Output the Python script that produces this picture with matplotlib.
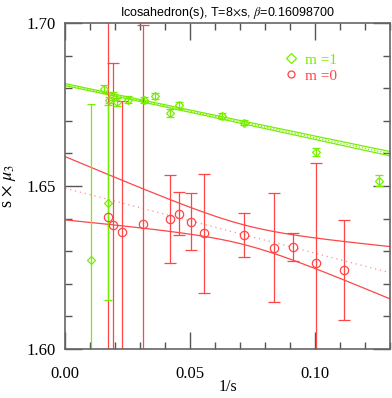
import numpy as np
import matplotlib
matplotlib.use("Agg")
import matplotlib.pyplot as plt
from matplotlib.lines import Line2D
from matplotlib.ticker import MultipleLocator

# ---- data: m = 0 (red circles) ----
m0_x = [0.0172, 0.0192, 0.0227, 0.0312, 0.0418, 0.0455, 0.0503, 0.0556,
        0.0716, 0.0836, 0.0912, 0.1004, 0.1115]
m0_y = [1.6406, 1.6381, 1.6360, 1.6383, 1.6400, 1.6415, 1.6390, 1.6355,
        1.6349, 1.6311, 1.6313, 1.6265, 1.6242]
m0_err = [0.0800, 0.0495, 0.0400, 0.0610, 0.0135, 0.0066, 0.0087, 0.0182,
          0.0067, 0.0168, 0.0042, 0.0306, 0.0153]

# ---- data: m = 1 (green diamonds) ----
m1_x = [0.0103, 0.0155, 0.0172, 0.0176, 0.0190, 0.0208, 0.0251, 0.0314,
        0.0358, 0.0419, 0.0455, 0.0627, 0.0716, 0.1003, 0.1255]
m1_y = [1.6273, 1.6798, 1.6449, 1.6764, 1.6776, 1.6757, 1.6765, 1.6764,
        1.6776, 1.6723, 1.6747, 1.6715, 1.6694, 1.6604, 1.6516]
m1_err = [0.0478, 0.0012, 0.0299, 0.0010, 0.0012, 0.0012, 0.0010, 0.0010,
          0.0010, 0.0012, 0.0010, 0.0008, 0.0008, 0.0013, 0.0017]

# ---- linear fit parameters (intercept, slope, covariance) ----
fit0_a, fit0_b = 1.6493, -0.1992
fit0_var_a, fit0_cov, fit0_var_b = 9.4e-5, -1.18e-3, 1.64e-2
fit1_a, fit1_b = 1.6811, -0.1630
fit1_var_a, fit1_cov, fit1_var_b = 1.016e-7, -5.8e-7, 2.9e-5

x_ticks = [0.00, 0.05, 0.10]
x_ticklabels = ["0.00", "0.05", "0.10"]
y_ticks = [1.60, 1.65, 1.70]
y_ticklabels = ["1.60", "1.65", "1.70"]

RED = "#ff4545"
PINK = "#ff9090"
GREEN = "#77ee00"

plt.rcParams["mathtext.fontset"] = "stix"
fig = plt.figure(figsize=(3.92, 3.98), dpi=100)
ax = fig.add_axes([65.3 / 392, 49 / 398, (390 - 65.3) / 392, (349 - 23) / 398])

xx = np.linspace(0, 0.13, 200)

def band(a, b, va, cv, vb):
    c = a + b * xx
    e = np.sqrt(va + 2 * xx * cv + xx ** 2 * vb)
    return c, e

c0, e0 = band(fit0_a, fit0_b, fit0_var_a, fit0_cov, fit0_var_b)
ax.plot(xx, c0 + e0, color=RED, lw=0.9)
ax.plot(xx, c0 - e0, color=RED, lw=0.9)
ax.plot(xx, c0, color=PINK, lw=0.9, ls=(0, (1, 3)))

c1, e1 = band(fit1_a, fit1_b, fit1_var_a, fit1_cov, fit1_var_b)
ax.plot(xx, c1 + e1, color=GREEN, lw=0.9)
ax.plot(xx, c1 - e1, color=GREEN, lw=0.9)
ax.plot(xx, c1, color=GREEN, lw=0.9, ls=(0, (1, 1.5)))

ax.errorbar(m0_x, m0_y, yerr=m0_err, fmt="o", mfc="none", mec=RED, ms=6,
            mew=0.9, ecolor=RED, elinewidth=0.9, capsize=4, capthick=0.9)
ax.errorbar(m1_x, m1_y, yerr=m1_err, fmt="D", mfc="none", mec=GREEN, ms=4.5,
            mew=0.9, ecolor=GREEN, elinewidth=0.9, capsize=3, capthick=0.9)

ax.set_xlim(0, 0.13)
ax.set_ylim(1.60, 1.70)
ax.set_xticks(x_ticks)
ax.set_xticklabels(x_ticklabels)
ax.set_yticks(y_ticks)
ax.set_yticklabels(y_ticklabels)
ax.xaxis.set_minor_locator(MultipleLocator(0.01))
ax.yaxis.set_minor_locator(MultipleLocator(0.01))
ax.tick_params(which="both", direction="in", top=True, right=True,
               color="#555555", width=1.0)
ax.tick_params(which="major", length=12)
ax.tick_params(which="minor", length=5)
ax.tick_params(axis="x", which="major", pad=12)
ax.tick_params(axis="y", which="major", pad=7)
for lab in ax.get_xticklabels() + ax.get_yticklabels():
    lab.set_family("Liberation Serif")
    lab.set_fontsize(12)
for sp in ax.spines.values():
    sp.set_color("#666666")
    sp.set_linewidth(1.2)

ax.set_xlabel("1/s", family="Liberation Serif", fontsize=11.5)
ax.xaxis.set_label_coords((228 - 65.3) / 324.7, (349 - 387) / 326, transform=ax.transAxes)
ax.xaxis.label.set_verticalalignment("center")
ax.set_ylabel(r"s $\times$ $\mu_3$", family="Liberation Serif", fontsize=13)
ax.yaxis.set_label_coords((9 - 65.3) / 324.7, 0.5, transform=ax.transAxes)
ax.yaxis.label.set_verticalalignment("center")
ax.set_title(r"Icosahedron(s), T=8$\times$s, $\beta$=0.16098700",
             family="Liberation Sans", fontsize=9, pad=5)

handles = [Line2D([], [], ls="none", marker="D", mfc="none", mec=GREEN, ms=5, mew=0.9),
           Line2D([], [], ls="none", marker="o", mfc="none", mec=RED, ms=5, mew=0.9)]
leg = ax.legend(handles, ["m =1", "m =0"], loc="upper left",
                bbox_to_anchor=(0.635, 0.95), frameon=False, handlelength=0.8,
                handletextpad=0.5, labelspacing=0.15,
                prop={"family": "Liberation Serif", "size": 11})
for t, c in zip(leg.get_texts(), [GREEN, RED]):
    t.set_color(c)

fig.savefig("out.png", dpi=100)
